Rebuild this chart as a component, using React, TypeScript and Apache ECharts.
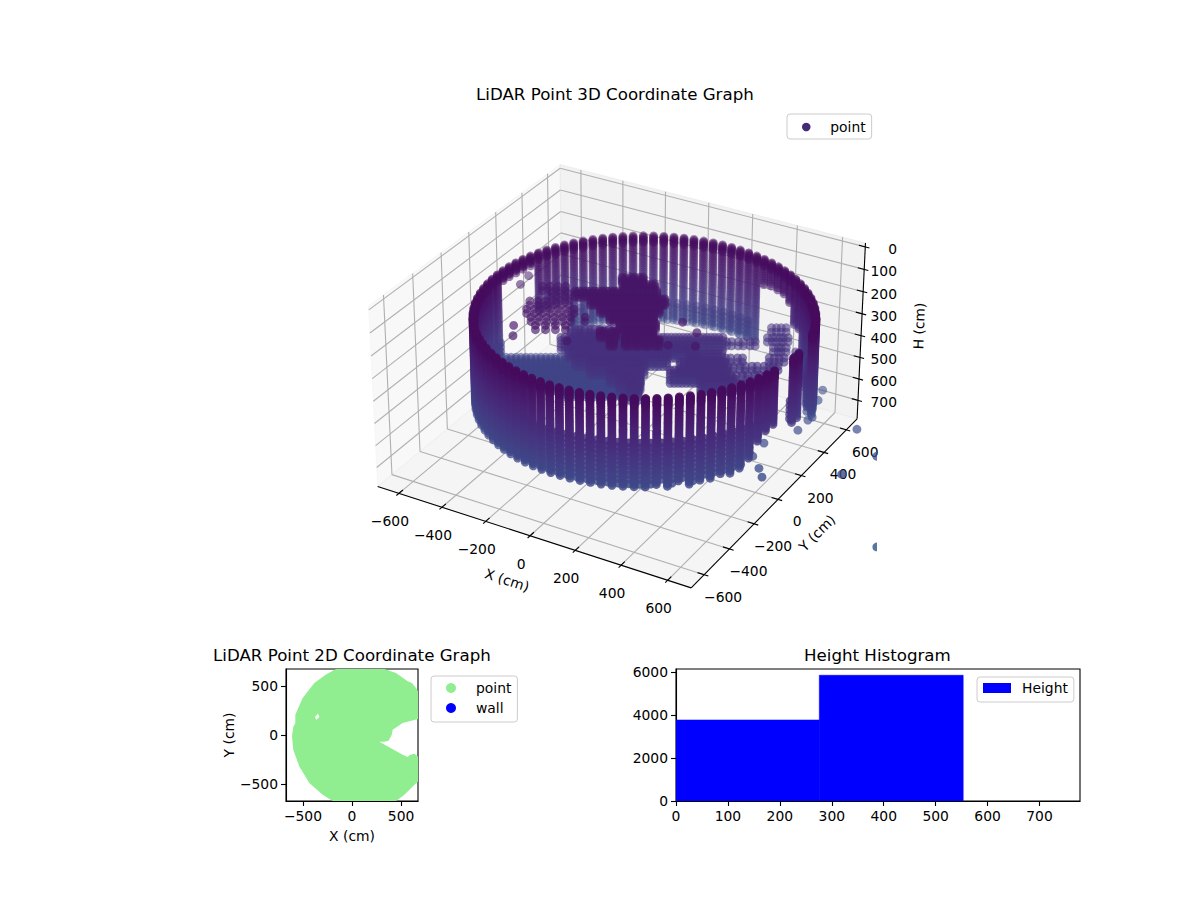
import React, { useEffect, useRef } from "react";
import * as echarts from "echarts";

// ---------- estimated readings from the picture ----------
const xTicks3d = [-600, -400, -200, 0, 200, 400, 600];
const yTicks3d = [-600, -400, -200, 0, 200, 400, 600];
const hTicks3d = [0, 100, 200, 300, 400, 500, 600, 700];
const ticks2d = [-500, 0, 500];
const histXTicks = [0, 100, 200, 300, 400, 500, 600, 700];
const histYTicks = [0, 2000, 4000, 6000];

// wall columns, azimuth in the view-aligned frame (deg)
const wallAzimuths = [
  0, 3.6, 7.2, 10.8, 14.4, 18, 21.6, 25.2, 28.8, 32.4, 36, 39.6, 43.2, 46.8, 50.4, 54, 57.6, 61.2, 64.8, 68.4,
  72, 75.6, 79.2, 82.8, 86.4, 90, 93.6, 97.2, 100.8, 104.4, 108, 111.6, 115.2, 118.8, 122.4, 126, 129.6, 133.2, 136.8, 140.4,
  144, 147.6, 151.2, 154.8, 158.4, 162, 165.6, 169.2, 172.8, 176.4, 180, 183.6, 187.2, 190.8, 194.4, 198, 201.6, 205.2, 208.8, 212.4,
  216, 219.6, 223.2, 226.8, 230.4, 234, 237.6, 241.2, 244.8, 248.4, 252, 255.6, 259.2, 262.8, 266.4, 270, 273.6, 277.2, 280.8, 284.4,
  288, 291.6, 295.2, 298.8, 302.4, 306, 309.6, 313.2, 316.8, 320.4, 324, 327.6, 331.2, 334.8, 338.4, 342, 345.6, 349.2, 352.8, 356.4,
];
const wallBottomH = [
  540, 540, 540, 540, 540, 540, 360, 360, 280, 260, 260, 260, 270, 540, 540, 540, 540, 540, 540, 540,
  540, 540, 540, 540, 540, 540, 540, 540, 540, 540, 540, 540, 540, 420, 420, 420, 420, 200, 200, 200,
  200, 200, 540, 540, 540, 540, 540, 540, 540, 540, 540, 540, 540, 540, 540, 540, 540, 540, 540, 540,
  540, 540, 540, 540, 540, 540, 540, 540, 540, 540, 540, 540, 540, 540, 540, 540, 530, 540, 520, 540,
  530, 530, 520, 530, 520, 490, 430, 400, 390, 0, 0, 440, 440, 0, 0, 0, 480, 540, 540, 540,
];
const scanHeights = [
  155, 160, 165, 170, 175, 180, 185, 190, 200, 210, 220, 230, 240, 250, 260, 270, 280, 290, 300, 310, 320, 330, 340,
  350, 360, 370, 380, 390, 400, 410, 420, 430, 440, 450, 460, 470, 480, 490, 500, 510, 520, 530, 540,
];
// returns between the main columns: near side / far side of the ring
const innerNearHeights = [360, 380, 400, 420, 440, 460, 480, 500, 520, 540];
const innerFarHeights = [450, 470, 490, 510, 530];

// interior returns: [depth along the view, [lateral offsets]] in cm
const upperCoreRows: [number, number[]][] = [
  [405, [0, 35, 70]],
  [348, [12, 47, 81, 116]],
  [291, [-186, -155, -124, -93, -62, -31, 0, 31, 62, 93, 124]],
  [225, [-124, -93, -62, -31, 0, 31, 62, 93, 124, 155]],
  [159, [-85, -54, -23, 8, 39, 70, 101, 132]],
  [94, [-47, -16, 16, 47, 78, 109]],
  [28, [-8, 23, 54, 85, 116]],
  [-37, [-85, -39, 12, 43, 74, 105]],
  [-103, [-47, 12, 50, 89, 128]],
];
const upperCoreHeights = [215, 225, 235, 245];
const upperCoreLateral = [0, 15];
const upperLeftRows: [number, number[]][] = [
  [348, [-318, -287, -256, -225]],
  [291, [-279, -248, -217]],
  [225, [-365, -334, -303, -272, -241, -210]],
  [159, [-376, -345, -314, -283, -252, -221, -190]],
  [94, [-357, -326, -295, -264, -233, -202, -144]],
  [28, [-338, -299, -260, -221]],
];
const upperLeftHeights = [225, 245];
const midRows: [number, number[]][] = [
  [255, [-204, -165, -125, -86, -47]],
  [191, [-243, -196, -149, -102, -55, -12, 39, 86, 133, 180, 227, 274, 322, 369]],
  [126, [-212, -165, -118, -71, -24, 24, 71, 118, 165, 212, 259]],
  [61, [-184, -137, -90, -43, 4, 51, 98, 145, 267, 314, 361]],
  [-4, [-125, -78, -31, 16, 55, 227, 274, 322, 369]],
  [-69, [-47, 0, 39, 188, 235, 282, 329, 376]],
  [-134, [-8, 31, 306, 353, 400]],
  [-199, [31]],
];
const midHeights = [370, 385, 400, 415, 430];
const midLateral = [0, 16, 32];
const sideRows: [number, number[]][] = [
  [304, [600, 639]],
  [223, [580, 612, 643]],
  [191, [416, 463, 510]],
  [142, [600, 631]],
  [61, [408, 455, 580, 619]],
  [-4, [416, 463, 510, 557, 592]],
  [-69, [424, 470, 517, 564]],
  [-134, [447, 494, 541]],
];
const sideHeights = [390, 410];
const sideLateral = [0, 20];
const floorRows: [number, number[]][] = [
  [258, [-466, -426, -386, -346, -306, -267, -227, -187, -147]],
  [209, [-486, -446, -406, -366, -326, -287, -247, -207, -167, -127, -88, -48]],
  [161, [-466, -426, -386, -346, -306, -267, -227, -187, -147, -107, -68, -28, 12]],
  [112, [-426, -386, -346, -306, -267, -227, -187, -147, -107, -68, -28, 12, 52]],
  [63, [-326, -287, -247, -207, -167, -127, -88, -48, -8, 32, 52]],
  [15, [-227, -187, -147, -107, -68, -28, 12]],
];
const floorHeights = [500, 510, 520, 530, 540];
const floorLateral = [0, 20];
// isolated returns: [lateral, depth, H]
const strayPoints = [
  [237, 61, 230], [159, 200, 230], [291, -21, 230], [283, -128, 230], [178, -119, 230],
  [-407, 373, 230], [-423, 36, 230], [-423, -46, 230], [-213, -87, 230], [-376, 446, 230],
  [799, 100, 560], [776, 21, 560], [745, -109, 560], [727, -131, 560], [684, -207, 560],
  [914, -200, 560], [548, -303, 560], [501, -399, 560], [521, -486, 560], [530, -549, 560],
  [833, -528, 560], [976, -399, 560], [957, -754, 740],
];
// outline of the 2D footprint [X, Y] in cm
const footprintOutline = [
  [-163, 673], [330, 673], [449, 633], [568, 548], [612, 531], [646, 486], [673, 446], [673, 163], [517, 122],
  [415, 54], [405, 3], [374, -58], [330, -68], [279, -68], [517, -201], [568, -224], [592, -201], [636, -190],
  [673, -218], [673, -473], [619, -524], [534, -609], [449, -673], [-197, -673], [-299, -609], [-435, -490],
  [-537, -320], [-599, -150], [-612, -14], [-599, 82], [-578, 122], [-578, 207], [-503, 378], [-384, 531], [-265, 616],
];
const footprintHole = [[-378, 184], [-347, 218], [-333, 184], [-364, 156]];
// histogram bins [from, to, count]
const heightBins = [[0, 276, 3780], [276, 553, 5870]];
const viridisLow = ["#440154", "#471365", "#482475", "#463480", "#414487", "#3b528b", "#355f8d"];

// ---------- 3D view (elev 30, azim -60, dist 10) ----------
const LIM = 700, HMIN = -17, HMAX = 787, HMID = (HMIN + HMAX) / 2, HHALF = (HMAX - HMIN) / 2;
const BOX_A = 0.62, BOX_C = 0.357, SCALE = 2880, CX = 622, CY = 364.5;
function view(x: number, y: number, h: number) {
  const nx = (x / LIM) * BOX_A, ny = (y / LIM) * BOX_A, nz = ((HMID - h) / HHALF) * BOX_C;
  const su = 0.866 * nx + 0.5 * ny;
  const sv = -0.25 * nx + 0.433 * ny + 0.866 * nz;
  const d = 0.433 * nx - 0.75 * ny + 0.5 * nz;
  const w = 10 - d;
  return { X: CX + (SCALE * su) / w, Y: CY - (SCALE * sv) / w, d };
}
const P = (x: number, y: number, h: number): [number, number] => {
  const p = view(x, y, h);
  return [p.X, p.Y];
};
const fromView = (u: number, v: number) => [0.866 * u - 0.5 * v, 0.5 * u + 0.866 * v];

function hex(c: string) {
  return [1, 3, 5].map((i) => parseInt(c.slice(i, i + 2), 16));
}
function colorOf(h: number) {
  const t = Math.max(0, Math.min(0.2999, (h - 100) / 2000)) / 0.05;
  const i = Math.floor(t), f = t - i;
  const a = hex(viridisLow[i]), b = hex(viridisLow[i + 1]);
  return `rgb(${a.map((v, k) => Math.round(v + (b[k] - v) * f)).join(",")})`;
}

const cloud: number[][] = [];
const RING_U0 = 87, RING_RU = 665, RING_RV = 650;
wallAzimuths.forEach((az, i) => {
  const r = (az * Math.PI) / 180;
  const [x, y] = fromView(RING_U0 + RING_RU * Math.cos(r), RING_RV * Math.sin(r));
  scanHeights.forEach((h) => {
    if (h <= wallBottomH[i]) cloud.push([x, y, h]);
  });
  const r2 = ((az + 1.8) * Math.PI) / 180;
  const [x2, y2] = fromView(RING_U0 + RING_RU * Math.cos(r2) * 0.97, RING_RV * Math.sin(r2) * 0.97);
  (az > 180 ? innerNearHeights : innerFarHeights).forEach((h) => {
    if (h <= wallBottomH[i]) cloud.push([x2, y2, h]);
  });
});
const addRows = (rows: [number, number[]][], heights: number[], lateral: number[]) =>
  rows.forEach(([v, us]) =>
    us.forEach((u) =>
      lateral.forEach((l) =>
        heights.forEach((h) => {
          const [x, y] = fromView(u + l, v);
          cloud.push([x, y, h]);
        })
      )
    )
  );
addRows(upperCoreRows, upperCoreHeights, upperCoreLateral);
addRows(upperLeftRows, upperLeftHeights, [0]);
addRows(midRows, midHeights, midLateral);
addRows(sideRows, sideHeights, sideLateral);
addRows(floorRows, floorHeights, floorLateral);
strayPoints.forEach(([u, v, h]) => {
  const [x, y] = fromView(u, v);
  cloud.push([x, y, h]);
});
cloud.sort((a, b) => view(a[0], a[1], a[2]).d - view(b[0], b[1], b[2]).d);

const FONT = '"DejaVu Sans"';
const FS = 13.89;
const minus = (v: number) => (v < 0 ? "\u2212" + Math.abs(v) : String(v));

function axes3d() {
  const els: any[] = [];
  const poly = (pts: [number, number][], fill: string, z = 0) =>
    els.push({ type: "polygon", silent: true, z, shape: { points: pts }, style: { fill, stroke: fill, lineWidth: 1 } });
  const line = (a: [number, number], b: [number, number], stroke: string, lineWidth: number) =>
    els.push({ type: "line", silent: true, z: 1, shape: { x1: a[0], y1: a[1], x2: b[0], y2: b[1] }, style: { stroke, lineWidth } });
  const text = (s: string, x: number, y: number, rot = 0, align = "center") =>
    els.push({ type: "text", silent: true, z: 1, x, y, rotation: (rot * Math.PI) / 180,
      style: { text: s, fill: "#000", font: `${FS}px ${FONT}`, align, verticalAlign: "middle" } });
  poly([P(-LIM, -LIM, HMAX), P(-LIM, LIM, HMAX), P(-LIM, LIM, HMIN), P(-LIM, -LIM, HMIN)], "rgba(242,242,242,0.5)");
  poly([P(-LIM, LIM, HMAX), P(LIM, LIM, HMAX), P(LIM, LIM, HMIN), P(-LIM, LIM, HMIN)], "rgba(230,230,230,0.5)");
  poly([P(-LIM, -LIM, HMAX), P(LIM, -LIM, HMAX), P(LIM, LIM, HMAX), P(-LIM, LIM, HMAX)], "rgba(236,236,236,0.5)");
  const G = "#b0b0b0";
  xTicks3d.forEach((t) => {
    line(P(t, -LIM, HMAX), P(t, LIM, HMAX), G, 1.1);
    line(P(t, LIM, HMAX), P(t, LIM, HMIN), G, 1.1);
    line(P(t, -LIM - 18, HMAX), P(t, -LIM + 28, HMAX), "#000", 1.1);
    const [a, b] = P(t, -LIM, HMAX);
    text(minus(t), a - 9, b + 28);
  });
  yTicks3d.forEach((t) => {
    line(P(-LIM, t, HMAX), P(LIM, t, HMAX), G, 1.1);
    line(P(-LIM, t, HMAX), P(-LIM, t, HMIN), G, 1.1);
    line(P(LIM - 28, t, HMAX), P(LIM + 18, t, HMAX), "#000", 1.1);
    const [a, b] = P(LIM, t, HMAX);
    text(minus(t), a + 19, b + 22);
  });
  hTicks3d.forEach((t) => {
    line(P(-LIM, -LIM, t), P(-LIM, LIM, t), G, 1.1);
    line(P(-LIM, LIM, t), P(LIM, LIM, t), G, 1.1);
    line(P(LIM - 28, LIM, t), P(LIM + 18, LIM, t), "#000", 1.1);
    const [, b] = P(LIM, LIM, t);
    text(minus(t), 897, b + 2, 0, "right");
  });
  line(P(-LIM, -LIM, HMAX), P(LIM, -LIM, HMAX), "#000", 1.1);
  line(P(LIM, -LIM, HMAX), P(LIM, LIM, HMAX), "#000", 1.1);
  line(P(LIM, LIM, HMAX), P(LIM, LIM, HMIN), "#000", 1.1);
  text("X (cm)", 507, 580, -18);
  text("Y (cm)", 817, 533, 45);
  text("H (cm)", 919, 326, 88);
  return els;
}

const axisBase = (name: string | null, min: number, max: number, ticks: number[], idx: number, pos: string, gap: number) => ({
  type: "value", gridIndex: idx, min, max, position: pos,
  name: name ?? undefined, nameLocation: "middle", nameGap: gap,
  nameTextStyle: { fontFamily: FONT, fontSize: FS, color: "#000" },
  axisLine: { show: true, onZero: false, lineStyle: { color: "#000", width: 1.1 } },
  axisTick: { show: true, length: 5, customValues: ticks, lineStyle: { color: "#000", width: 1.1 } },
  axisLabel: { show: true, margin: 8, customValues: ticks, color: "#000", fontFamily: FONT, fontSize: FS, hideOverlap: false, formatter: (v: number) => minus(v) },
  splitLine: { show: false },
});
const hidden = (idx: number, min: number, max: number, inverse = false) => ({ type: "value", gridIndex: idx, min, max, inverse, show: false });
const titleOf = (text: string, left: number, top: number) => ({
  text, left, top, padding: 0, textStyle: { fontFamily: FONT, fontSize: 16.67, fontWeight: "normal", color: "#000" },
});
const legendOf = (left: number, top: number, items: any[], iw: number, ih: number, pad: number[], textPad: number[]) => ({
  left, top, orient: "vertical", data: items, itemWidth: iw, itemHeight: ih, itemGap: 6, padding: pad, selectedMode: false,
  borderColor: "#ccc", borderWidth: 1, borderRadius: 3, backgroundColor: "rgba(255,255,255,0.8)",
  textStyle: { fontFamily: FONT, fontSize: FS, color: "#000", padding: textPad },
});

export default function App() {
  const ref = useRef<HTMLDivElement>(null);
  useEffect(() => {
    const chart = echarts.init(ref.current!, undefined, { renderer: "svg" });
    chart.setOption({
      animation: false,
      backgroundColor: "#fff",
      title: [
        titleOf("LiDAR Point 3D Coordinate Graph", 476, 86),
        titleOf("LiDAR Point 2D Coordinate Graph", 213, 647),
        titleOf("Height Histogram", 804, 647),
      ],
      legend: [
        legendOf(787, 114, [{ name: "point", icon: "circle", itemStyle: { color: "#452a78", opacity: 1 } }], 38, 8.5, [6, 6, 5, 15], [0, 0, 0, 0]),
        legendOf(431, 676, [
          { name: "point", icon: "circle", itemStyle: { color: "#90ee90", opacity: 1 } },
          { name: "wall", icon: "circle", itemStyle: { color: "#0000ff", opacity: 1 } },
        ], 40, 10, [5, 6, 7, 15], [0, 0, 0, 0]),
        legendOf(977, 677, [{ name: "Height", icon: "rect", itemStyle: { color: "#0000ff", opacity: 1 } }], 28, 10, [4, 6, 7, 6], [0, 0, 0, 6]),
      ],
      grid: [
        { left: 0, top: 0, width: 877, height: 900, show: false },
        { left: 286, top: 669, width: 132, height: 132, show: true, borderColor: "#000", borderWidth: 1.1, backgroundColor: "transparent" },
        { left: 676, top: 669, width: 404, height: 132, show: true, borderColor: "#000", borderWidth: 1.1, backgroundColor: "transparent" },
      ],
      xAxis: [
        hidden(0, 0, 877),
        axisBase("X (cm)", -673, 673, ticks2d, 1, "bottom", 28),
        axisBase(null, 0, 778, histXTicks, 2, "bottom", 28),
      ],
      yAxis: [
        hidden(0, 0, 900, true),
        axisBase("Y (cm)", -673, 673, ticks2d, 1, "left", 47),
        axisBase(null, 0, 6163, histYTicks, 2, "left", 40),
      ],
      graphic: { elements: axes3d() },
      series: [
        {
          type: "custom", name: "point", xAxisIndex: 0, yAxisIndex: 0, clip: true, progressive: 0, silent: true,
          itemStyle: { color: "#452a78" },
          data: cloud,
          encode: { x: -1, y: -1 },
          renderItem: (params: any, api: any) => {
            const p = cloud[params.dataIndex];
            const v = view(p[0], p[1], p[2]);
            const c = api.coord([v.X, v.Y]);
            const alpha = Math.max(0.4, Math.min(0.9, 0.4 + (0.5 * (v.d + 0.55)) / 1.1));
            return { type: "circle", shape: { cx: c[0], cy: c[1], r: 4.4 }, style: { fill: colorOf(p[2]), opacity: alpha } };
          },
        },
        {
          type: "custom", name: "point", xAxisIndex: 1, yAxisIndex: 1, clip: true, silent: true,
          itemStyle: { color: "#90ee90" },
          data: [0],
          encode: { x: -1, y: -1 },
          renderItem: (_: any, api: any) => ({
            type: "group",
            children: [
              { type: "polygon", shape: { points: footprintOutline.map((p) => api.coord(p)) }, style: { fill: "#90ee90" } },
              { type: "polygon", shape: { points: footprintHole.map((p) => api.coord(p)) }, style: { fill: "#fff" } },
            ],
          }),
        },
        { type: "scatter", name: "wall", xAxisIndex: 1, yAxisIndex: 1, data: [], itemStyle: { color: "#0000ff", opacity: 1 } },
        {
          type: "custom", name: "Height", xAxisIndex: 2, yAxisIndex: 2, clip: true, silent: true,
          itemStyle: { color: "#0000ff" },
          data: heightBins,
          encode: { x: [0, 1], y: 2 },
          renderItem: (_: any, api: any) => {
            const a = api.coord([api.value(0), api.value(2)]);
            const b = api.coord([api.value(1), 0]);
            return { type: "rect", shape: { x: a[0], y: a[1], width: b[0] - a[0], height: b[1] - a[1] }, style: { fill: "#0000ff", stroke: "#0000ff", lineWidth: 0.6 } };
          },
        },
      ],
    });
    return () => chart.dispose();
  }, []);
  return <div ref={ref} style={{ position: "absolute", left: 0, top: 0, width: 1200, height: 900 }} />;
}
